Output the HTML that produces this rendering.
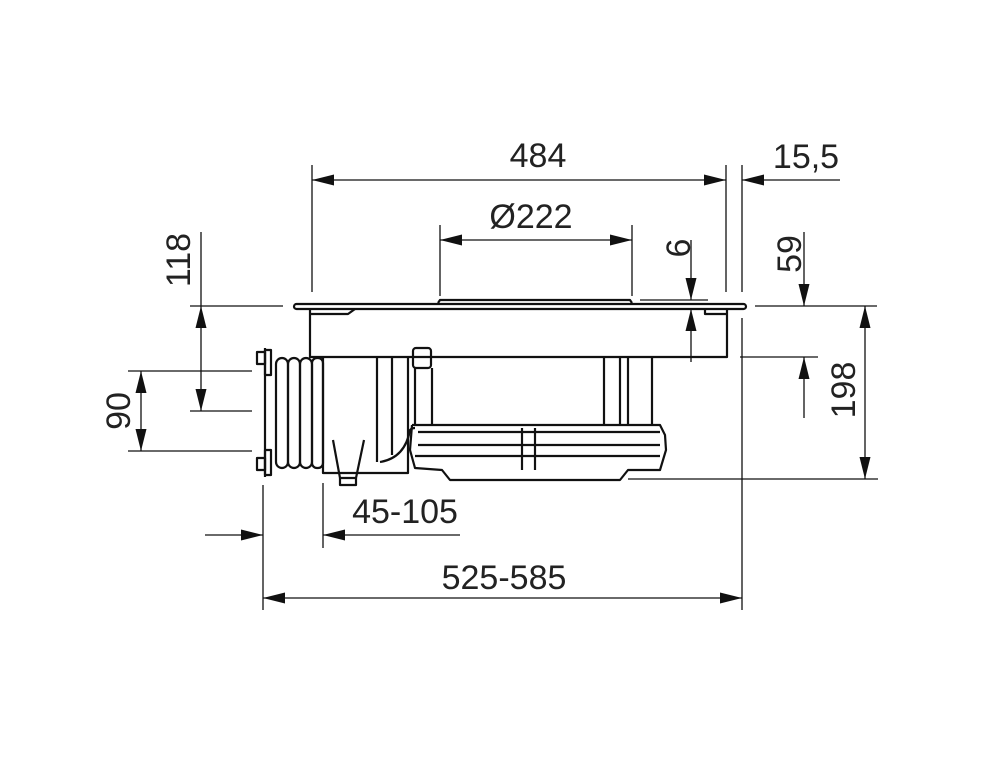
<!DOCTYPE html>
<html><head><style>body{margin:0;background:#fff}svg{display:block}text{font-family:"Liberation Sans",sans-serif;font-size:34px;fill:#222}</style></head><body>
<svg width="1000" height="776" viewBox="0 0 1000 776" xmlns="http://www.w3.org/2000/svg">
<defs>
<marker id="a" viewBox="0 0 10 10" refX="10" refY="5" markerWidth="22" markerHeight="11" preserveAspectRatio="none" markerUnits="userSpaceOnUse" orient="auto-start-reverse"><path d="M0,0L10,5L0,10z" fill="#111"/></marker>
</defs>
<g stroke="#111" stroke-width="1.3" fill="none">
<line x1="312" y1="165" x2="312" y2="292"/>
<line x1="726" y1="165" x2="726" y2="292"/>
<line x1="742" y1="165" x2="742" y2="292"/>
<line x1="742" y1="318" x2="742" y2="610"/>
<line x1="440" y1="225" x2="440" y2="296"/>
<line x1="632" y1="225" x2="632" y2="296"/>
<line x1="640" y1="300" x2="708" y2="300"/>
<line x1="755" y1="306" x2="877" y2="306"/>
<line x1="740" y1="357" x2="818" y2="357"/>
<line x1="628" y1="479" x2="878" y2="479"/>
<line x1="190" y1="306" x2="283" y2="306"/>
<line x1="190" y1="411" x2="252" y2="411"/>
<line x1="128" y1="371" x2="252" y2="371"/>
<line x1="128" y1="451" x2="252" y2="451"/>
<line x1="263" y1="485" x2="263" y2="610"/>
<line x1="323" y1="483" x2="323" y2="548"/>
<line x1="312" y1="180" x2="726" y2="180" marker-start="url(#a)" marker-end="url(#a)"/>
<line x1="840" y1="180" x2="742" y2="180" marker-end="url(#a)"/>
<line x1="440" y1="240" x2="632" y2="240" marker-start="url(#a)" marker-end="url(#a)"/>
<line x1="691" y1="240" x2="691" y2="300" marker-end="url(#a)"/>
<line x1="691" y1="362" x2="691" y2="309" marker-end="url(#a)"/>
<line x1="804" y1="232" x2="804" y2="306" marker-end="url(#a)"/>
<line x1="804" y1="418" x2="804" y2="357" marker-end="url(#a)"/>
<line x1="865" y1="306" x2="865" y2="479" marker-start="url(#a)" marker-end="url(#a)"/>
<line x1="201" y1="232" x2="201" y2="306"/>
<line x1="201" y1="306" x2="201" y2="411" marker-start="url(#a)" marker-end="url(#a)"/>
<line x1="141" y1="371" x2="141" y2="451" marker-start="url(#a)" marker-end="url(#a)"/>
<line x1="205" y1="535" x2="263" y2="535" marker-end="url(#a)"/>
<line x1="460" y1="535" x2="323" y2="535" marker-end="url(#a)"/>
<line x1="263" y1="598" x2="742" y2="598" marker-start="url(#a)" marker-end="url(#a)"/>
</g>
<g stroke="#111" stroke-width="2.2" fill="none" stroke-linejoin="round">
<rect x="294" y="304" width="452" height="5" rx="2.5"/>
<path d="M438,303 L440,300 L630,300 L632,303"/>
<path d="M310,309 L310,357 L727,357 L727,309"/>
<path d="M310,314 L348,314 L355,309"/>
<path d="M705,309 L705,314 L727,314"/>
<line x1="265" y1="348" x2="265" y2="477"/>
<rect x="265" y="350" width="6" height="25"/>
<rect x="265" y="450" width="6" height="25"/>
<rect x="257" y="352" width="8" height="12"/>
<rect x="257" y="458" width="8" height="12"/>
<rect x="276" y="358" width="12" height="110" rx="6"/>
<rect x="288" y="358" width="12" height="110" rx="6"/>
<rect x="300" y="358" width="12" height="110" rx="6"/>
<rect x="312" y="358" width="11" height="110" rx="5"/>
<line x1="323" y1="357" x2="323" y2="465"/>
<path d="M323,465 L323,473 L408,473 L408,357"/>
<line x1="377" y1="357" x2="377" y2="462"/>
<line x1="392" y1="357" x2="392" y2="455"/>
<path d="M333,440 L340,478 L356,478 L364,440"/>
<path d="M340,478 L340,485 L356,485 L356,478"/>
<path d="M380,462 Q405,458 410,430 Q412,428 415,428"/>
<rect x="413" y="348" width="18" height="20" rx="3"/>
<line x1="415" y1="368" x2="415" y2="425"/><line x1="432" y1="368" x2="432" y2="425"/>
<line x1="604" y1="357" x2="604" y2="426"/><line x1="620" y1="357" x2="620" y2="426"/>
<line x1="628" y1="357" x2="628" y2="426"/><line x1="652" y1="357" x2="652" y2="426"/>
<path d="M412,425 L660,425 L665,435 L666,450 L660,470 L628,470 L620,480 L450,480 L442,470 L415,468 L410,450 L412,425"/>
<line x1="418" y1="432" x2="660" y2="432"/>
<line x1="418" y1="445" x2="660" y2="445"/>
<line x1="415" y1="456" x2="660" y2="456"/>
<line x1="522" y1="428" x2="522" y2="470"/><line x1="535" y1="428" x2="535" y2="470"/>
</g>
<text x="538" y="167" text-anchor="middle">484</text>
<text x="806" y="168" text-anchor="middle">15,5</text>
<text x="531" y="228" text-anchor="middle">Ø222</text>
<text x="405" y="523" text-anchor="middle">45-105</text>
<text x="504" y="589" text-anchor="middle">525-585</text>
<text transform="translate(690,248) rotate(-90)" text-anchor="middle">6</text>
<text transform="translate(801,254) rotate(-90)" text-anchor="middle">59</text>
<text transform="translate(855,390) rotate(-90)" text-anchor="middle">198</text>
<text transform="translate(190,260) rotate(-90)" text-anchor="middle">118</text>
<text transform="translate(130,411) rotate(-90)" text-anchor="middle">90</text>
</svg>
</body></html>
